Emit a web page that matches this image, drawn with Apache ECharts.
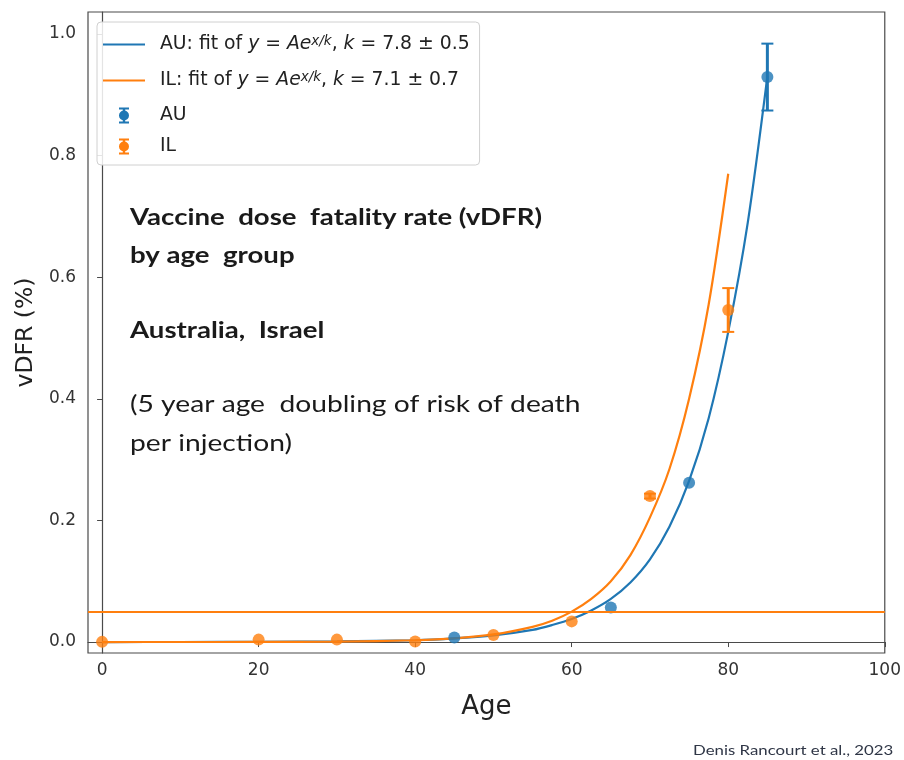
<!DOCTYPE html>
<html>
<head>
<meta charset="utf-8">
<script src="https://cdn.jsdelivr.net/npm/echarts@6/dist/echarts.min.js"></script>
<style>
html,body{margin:0;padding:0;background:#fff;}
#chart{width:904px;height:760px;}
</style>
</head>
<body>
<div id="chart"></div>
<script>
// ---- data ----
const auAge = [45, 65, 75, 85];
const auVdfr = [0.0075, 0.057, 0.262, 0.929];
const auErr = [0, 0, 0, 0.055];

const ilAge = [0, 20, 30, 40, 50, 60, 70, 80];
const ilVdfr = [0.0003, 0.004, 0.004, 0.001, 0.0117, 0.034, 0.240, 0.546];
const ilErr = [0, 0, 0, 0, 0, 0, 0.004, 0.036];

const auFitAge = [0, 10, 20, 30, 40, 45, 50, 55, 57.5, 60, 62.5, 65, 67.5, 70, 72.5, 75, 77.5, 80, 82.5, 85];
const auFitVdfr = [0.0, 0.0001, 0.0003, 0.001, 0.003, 0.006, 0.011, 0.020, 0.028, 0.038, 0.052, 0.071, 0.098, 0.136, 0.19, 0.265, 0.368, 0.51, 0.69, 0.93];

const ilFitAge = [0, 10, 20, 30, 40, 45, 50, 55, 57.5, 60, 62.5, 65, 67.5, 70, 72.5, 75, 77.5, 80];
const ilFitVdfr = [0.0, 0.0001, 0.0002, 0.0008, 0.003, 0.006, 0.0125, 0.025, 0.035, 0.050, 0.071, 0.100, 0.143, 0.205, 0.285, 0.400, 0.555, 0.77];

const hLineVdfr = 0.052;

const xTicks = [0, 20, 40, 60, 80, 100];
const yTicks = [0.0, 0.2, 0.4, 0.6, 0.8, 1.0];

const nameAuFit = 'AU fit';
const nameIlFit = 'IL fit';
const nameAu = 'AU';
const nameIl = 'IL';
const legendText = {
  'AU fit': '{t|AU: fit of }{i|y}{t| = }{i|Ae}{s|x/k}{t|, }{i|k}{t| = 7.8 ± 0.5}',
  'IL fit': '{t|IL: fit of }{i|y}{t| = }{i|Ae}{s|x/k}{t|, }{i|k}{t| = 7.1 ± 0.7}',
  'AU': '{t|AU}',
  'IL': '{t|IL}'
};

const BLUE = '#1f77b4';
const ORANGE = '#ff7f0e';

function zip(xs, ys) { return xs.map((x, i) => [x, ys[i]]); }
function zip3(xs, ys, es) { return xs.map((x, i) => [x, ys[i], es[i]]); }

function errRender(color) {
  return function (params, api) {
    const x = api.value(0), y = api.value(1), e = api.value(2);
    if (!(e > 0)) return null;
    const top = api.coord([x, y + e]);
    const bot = api.coord([x, y - e]);
    const hw = 6;
    const st = { stroke: color, lineWidth: 2 };
    return {
      type: 'group',
      children: [
        { type: 'line', shape: { x1: top[0], y1: top[1], x2: bot[0], y2: bot[1] }, style: { stroke: color, lineWidth: 3 } },
        { type: 'line', shape: { x1: top[0] - hw, y1: top[1], x2: top[0] + hw, y2: top[1] }, style: st },
        { type: 'line', shape: { x1: bot[0] - hw, y1: bot[1], x2: bot[0] + hw, y2: bot[1] }, style: st }
      ]
    };
  };
}

// legend icons (42 x 16 box, with corner anchors to keep proportions)
const anchors = 'M0,0L0.01,0L0,0.01Z M42,16L41.99,16L42,15.99Z ';
const errIcon = 'path://' + anchors +
  'M16,0L26,0L26,2L22.2,2L22.2,14L26,14L26,16L16,16L16,14L19.8,14L19.8,2L16,2Z ' +
  'M21,3A5,5 0 1,1 20.99,3Z';
const lineIcon = 'path://' + anchors + 'M0,6.9L42,6.9L42,9.1L0,9.1Z';

const chart = echarts.init(document.getElementById('chart'), null, { renderer: 'canvas' });

const option = {
  animation: false,
  backgroundColor: '#ffffff',
  grid: {
    left: 88, right: 19, top: 12, bottom: 107,
    show: true, borderColor: '#4a4a4a', borderWidth: 1.2, backgroundColor: 'transparent'
  },
  xAxis: {
    type: 'value',
    min: -1.8, max: 100,
    name: 'Age',
    nameLocation: 'middle',
    nameGap: 41,
    nameTextStyle: { fontFamily: 'DejaVu Sans', fontSize: 26, color: '#222' },
    axisLine: { show: true, lineStyle: { color: '#4a4a4a', width: 1.2 } },
    axisTick: { show: true, customValues: xTicks, length: 5, lineStyle: { color: '#4a4a4a' } },
    axisLabel: {
      customValues: xTicks, margin: 9,
      fontFamily: 'DejaVu Sans', fontSize: 17, color: '#333',
      formatter: v => String(Math.round(v))
    },
    splitLine: { show: false }
  },
  yAxis: {
    type: 'value',
    min: -0.018, max: 1.036,
    name: 'vDFR (%)',
    nameLocation: 'middle',
    nameGap: 41,
    nameRotate: 90,
    nameTextStyle: { fontFamily: 'DejaVu Sans', fontSize: 23.5, color: '#222' },
    axisLine: { show: true, lineStyle: { color: '#4a4a4a', width: 1.2 } },
    axisTick: { show: true, customValues: yTicks, length: 5, lineStyle: { color: '#4a4a4a' } },
    axisLabel: {
      customValues: yTicks, margin: 12,
      fontFamily: 'DejaVu Sans', fontSize: 17, color: '#333',
      formatter: v => v.toFixed(1)
    },
    splitLine: { show: false }
  },
  legend: {
    orient: 'vertical',
    left: 97, top: 22,
    padding: [12, 10, 9, 6],
    itemWidth: 42, itemHeight: 16, itemGap: 12,
    borderColor: '#d0d0d0', borderWidth: 1, borderRadius: 4,
    backgroundColor: 'rgba(255,255,255,0.85)',
    selectedMode: false,
    data: [
      { name: nameAuFit, icon: lineIcon },
      { name: nameIlFit, icon: lineIcon },
      { name: nameAu, icon: errIcon },
      { name: nameIl, icon: errIcon }
    ],
    formatter: n => legendText[n],
    textStyle: {
      padding: [0, 0, 0, 10],
      rich: {
        t: { fontFamily: 'DejaVu Sans', fontSize: 18.8, color: '#222', lineHeight: 21 },
        i: { fontFamily: 'DejaVu Sans', fontStyle: 'italic', fontSize: 18.8, color: '#222', lineHeight: 21 },
        s: { fontFamily: 'DejaVu Sans', fontStyle: 'italic', fontSize: 13.5, color: '#222', verticalAlign: 'top', lineHeight: 21, padding: [0, 0, 10, 0] }
      }
    }
  },
  series: [
    {
      name: nameAuFit, type: 'line', data: zip(auFitAge, auFitVdfr),
      smooth: 0.3, symbol: 'none', color: BLUE,
      lineStyle: { color: BLUE, width: 2.2 }, z: 2
    },
    {
      name: nameIlFit, type: 'line', data: zip(ilFitAge, ilFitVdfr),
      smooth: 0.3, symbol: 'none', color: ORANGE,
      lineStyle: { color: ORANGE, width: 2.2 }, z: 2,
      markLine: {
        silent: true, symbol: 'none', label: { show: false },
        lineStyle: { color: ORANGE, width: 2, type: 'solid' },
        data: [{ yAxis: hLineVdfr }]
      }
    },
    {
      name: nameAu, type: 'custom', data: zip3(auAge, auVdfr, auErr),
      renderItem: errRender(BLUE), color: BLUE, z: 3,
      encode: { x: 0, y: 1 }
    },
    {
      name: nameIl, type: 'custom', data: zip3(ilAge, ilVdfr, ilErr),
      renderItem: errRender(ORANGE), color: ORANGE, z: 3,
      encode: { x: 0, y: 1 }
    },
    {
      name: nameAu, type: 'scatter', data: zip(auAge, auVdfr),
      symbol: 'circle', symbolSize: 12, itemStyle: { color: BLUE }, z: 4
    },
    {
      name: nameIl, type: 'scatter', data: zip(ilAge, ilVdfr),
      symbol: 'circle', symbolSize: 12, itemStyle: { color: ORANGE }, z: 4
    }
  ],
  graphic: [
    { type: 'text', left: 130, top: 206, scaleX: 1.2, style: { text: 'Vaccine  dose  fatality rate (vDFR)', font: 'bold 23px Lato', fill: '#1a1a1a' } },
    { type: 'text', left: 130, top: 244, scaleX: 1.2, style: { text: 'by age  group', font: 'bold 23px Lato', fill: '#1a1a1a' } },
    { type: 'text', left: 130, top: 319, scaleX: 1.2, style: { text: 'Australia,  Israel', font: 'bold 23px Lato', fill: '#1a1a1a' } },
    { type: 'text', left: 130, top: 392, scaleX: 1.2, style: { text: '(5 year age  doubling of risk of death', font: '23.5px Lato', fill: '#1a1a1a' } },
    { type: 'text', left: 130, top: 431, scaleX: 1.2, style: { text: 'per injection)', font: '23.5px Lato', fill: '#1a1a1a' } },
    { type: 'text', left: 693, top: 743, scaleX: 1.2, style: { text: 'Denis Rancourt et al., 2023', font: '14px Lato', fill: '#2f3646' } }
  ]
};

chart.setOption(option);
</script>
</body>
</html>
